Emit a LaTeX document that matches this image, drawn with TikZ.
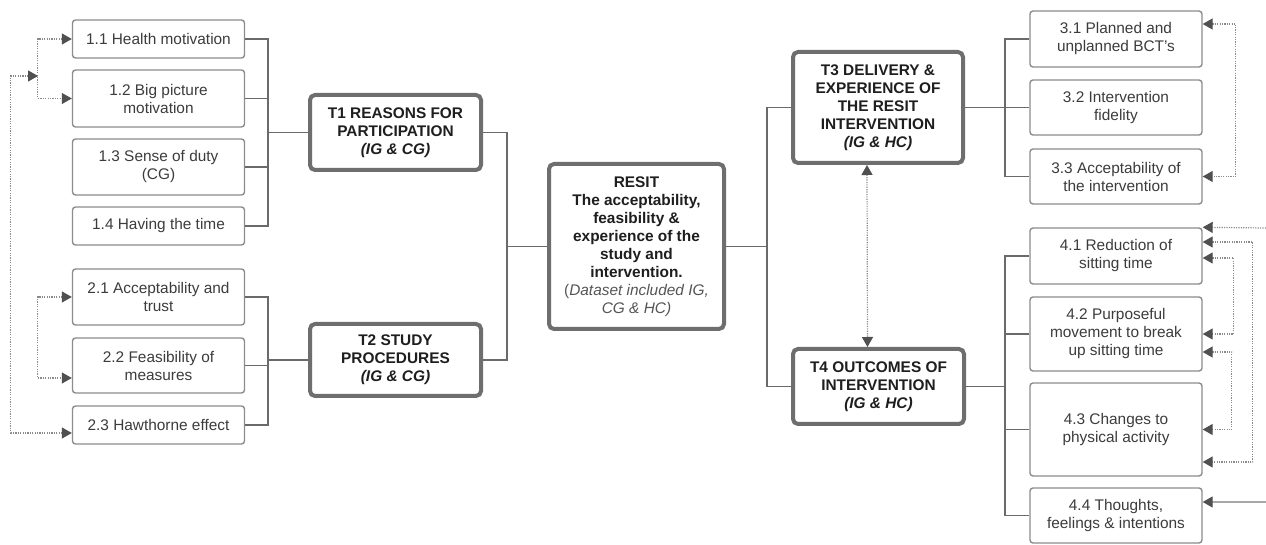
\documentclass[tikz,border=0pt]{standalone}
\usepackage{fontspec}
\setmainfont{Liberation Sans}
\usepackage{xcolor}
\usetikzlibrary{arrows.meta, calc}
\definecolor{box-line}{HTML}{8C8C8C}
\definecolor{theme-line}{HTML}{6E6E6E}
\definecolor{branch-line}{HTML}{6A6A6A}
\definecolor{link-line}{HTML}{8A8A8A}
\definecolor{feed-line}{HTML}{A8A8A8}
\definecolor{tip-fill}{HTML}{505050}
\definecolor{sub-text}{HTML}{3C3C3C}
\definecolor{theme-text}{HTML}{1E1E1E}
\definecolor{note-text}{HTML}{555555}

\begin{document}
\begin{tikzpicture}[x=0.5pt, y=-0.5pt,
          every node/.style={font=\fontsize{7.7}{9}\selectfont},
          >={Triangle[length=5pt, width=5.5pt, color=tip-fill]},
          subbox/.style={draw=box-line, line width=0.7pt, fill=white,
            rounded corners=1.5pt, minimum width=86pt, inner sep=0pt,
            align=center, text=sub-text},
          themebox/.style={draw=theme-line, line width=2pt, fill=white,
            rounded corners=2.5pt, inner sep=0pt, align=center,
            text=theme-text, font=\fontsize{7.7}{9}\selectfont\bfseries},
          branch/.style={draw=branch-line, line width=0.8pt},
          link/.style={draw=link-line, line width=0.6pt,
            dash pattern=on 0.6pt off 0.6pt},
          feed/.style={draw=feed-line, line width=0.6pt}]
      \useasboundingbox (0,0) rectangle (1266,545);
      % left column
      \node[subbox, minimum height=19pt] (Health) at (158.5,39)
            {1.1 Health motivation};
      \node[subbox, minimum height=28.5pt] (Picture) at (158.5,98.5)
            {1.2 Big picture\\motivation};
      \node[subbox, minimum height=28pt] (Duty) at (158.5,167)
            {1.3 Sense of duty\\(CG)};
      \node[subbox, minimum height=19pt] (Time) at (158.5,226)
            {1.4 Having the time};
      \node[subbox, minimum height=28pt] (Trust) at (158.5,297)
            {2.1 Acceptability and\\trust};
      \node[subbox, minimum height=27.5pt] (Measures) at (158.5,365.5)
            {2.2 Feasibility of\\measures};
      \node[subbox, minimum height=19pt] (Hawthorne) at (158.5,425)
            {2.3 Hawthorne effect};
      % themes
      \node[themebox, minimum width=85.5pt, minimum height=37.5pt]
            (Reasons) at (395.5,132.5)
            {T1 REASONS FOR\\PARTICIPATION\\\textit{(IG \& CG)}};
      \node[themebox, minimum width=85.5pt, minimum height=36pt]
            (Procedures) at (395.5,360)
            {T2 STUDY\\PROCEDURES\\\textit{(IG \& CG)}};
      \node[themebox, minimum width=87.5pt, minimum height=82.5pt]
            (RESIT) at (636.5,246.5)
            {RESIT\\The acceptability,\\feasibility \&\\experience of the\\study and\\intervention.\\
             \mdseries\color{note-text}(\textit{Dataset included IG,}\\
             \mdseries\color{note-text}\textit{CG \& HC)}};
      \node[themebox, minimum width=85pt, minimum height=55.5pt]
            (Delivery) at (878,107.5)
            {T3 DELIVERY \&\\EXPERIENCE OF\\THE RESIT\\INTERVENTION\\\textit{(IG \& HC)}};
      \node[themebox, minimum width=85.5pt, minimum height=37.5pt]
            (Outcomes) at (878.5,386.5)
            {T4 OUTCOMES OF\\INTERVENTION\\\textit{(IG \& HC)}};
      % right column
      \node[subbox, minimum height=28pt] (BCT) at (1116,39)
            {3.1 Planned and\\unplanned BCT's};
      \node[subbox, minimum height=27.5pt] (Fidelity) at (1116,107.5)
            {3.2 Intervention\\fidelity};
      \node[subbox, minimum height=27.5pt] (Accept) at (1116,176.5)
            {3.3 Acceptability of\\the intervention};
      \node[subbox, minimum height=28pt] (Sitting) at (1116,256)
            {4.1 Reduction of\\sitting time};
      \node[subbox, minimum height=37pt] (Movement) at (1116,334)
            {4.2 Purposeful\\movement to break\\up sitting time};
      \node[subbox, minimum height=46.5pt] (Activity) at (1116,429.5)
            {4.3 Changes to\\physical activity};
      \node[subbox, minimum height=27.5pt] (Thoughts) at (1116,515.5)
            {4.4 Thoughts,\\feelings \& intentions};
      % branches
      \draw[branch] (Health.east) -- ++(23,0) |- (Reasons.west);
      \draw[branch] (Picture.east) -- ++(23,0) |- (Reasons.west);
      \draw[branch] (Duty.east) -- ++(23,0) |- (Reasons.west);
      \draw[branch] (Time.east) -- ++(23,0) |- (Reasons.west);
      \draw[branch] (Trust.east) -- ++(23,0) |- (Procedures.west);
      \draw[branch] (Measures.east) -- ++(23,0) |- (Procedures.west);
      \draw[branch] (Hawthorne.east) -- ++(23,0) |- (Procedures.west);
      \draw[branch] (Reasons.east) -- ++(24,0) |- (RESIT.west);
      \draw[branch] (Procedures.east) -- ++(24,0) |- (RESIT.west);
      \draw[branch] (RESIT.east) -- ++(41,0) |- (Delivery.west);
      \draw[branch] (RESIT.east) -- ++(41,0) |- (Outcomes.west);
      \draw[branch] (Delivery.east) -- ++(40,0) |- (BCT.west);
      \draw[branch] (Delivery.east) -- ++(40,0) |- (Fidelity.west);
      \draw[branch] (Delivery.east) -- ++(40,0) |- (Accept.west);
      \draw[branch] (Outcomes.east) -- ++(39,0) |- (Sitting.west);
      \draw[branch] (Outcomes.east) -- ++(39,0) |- (Movement.west);
      \draw[branch] (Outcomes.east) -- ++(39,0) |- (Activity.west);
      \draw[branch] (Outcomes.east) -- ++(39,0) |- (Thoughts.west);
      % dotted links
      \coordinate (Join) at (38,76);
      \draw[link, <->] (Health.west) -- ++(-34,0) |- (Picture.west);
      \draw[link, <->] ($(Hawthorne.west)+(0,8)$) -- ++(-61,0) |- (Join);
      \draw[link, <->] (Trust.west) -- ++(-34,0)
        |- ($(Measures.west)+(0,12.5)$);
      \draw[link, <->] ($(BCT.east)+(0,-15)$) -- ++(33,0) |- (Accept.east);
      \draw[link, <->] ($(Delivery.south)+(-11,0)$)
        -- ($(Outcomes.north)+(-11,0)$);
      \draw[link, <->] ($(Sitting.east)+(0,-14)$) -- ++(50,0)
        |- ($(Activity.east)+(0,32.5)$);
      \draw[link, <->] ($(Sitting.east)+(0,2)$) -- ++(31,0) |- (Movement.east);
      \draw[link, <->] ($(Movement.east)+(0,18)$) -- ++(29,0) |- (Activity.east);
      \coordinate (EdgeTop) at (1266,228);
      \draw[link, ->] (EdgeTop) -- (Sitting.north east);
      \coordinate (EdgeLow) at (1266,502);
      \draw[feed, ->] (EdgeLow) -- ($(Thoughts.east)+(0,-13.5)$);
    \end{tikzpicture}
\end{document}
